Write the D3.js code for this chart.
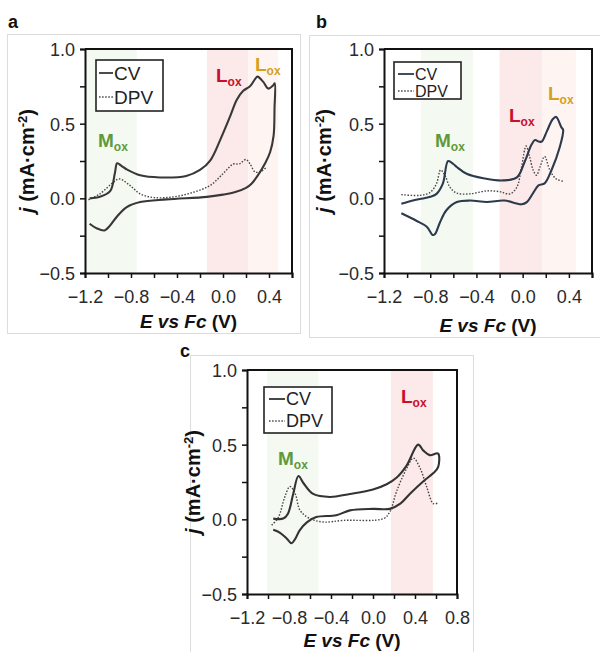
<!DOCTYPE html>
<html><head><meta charset="utf-8">
<script src="https://cdn.jsdelivr.net/npm/d3@7"></script>
<style>body{margin:0;background:#fff;} svg{display:block;font-family:"Liberation Sans",Arial,sans-serif;}</style>
</head><body><svg id="chart" width="600" height="652"></svg>
<script>
// ---------- data ----------
const xTicksAB = [-1.2, -0.8, -0.4, 0.0, 0.4];
const xTicksC = [-1.2, -0.8, -0.4, 0.0, 0.4, 0.8];
const yTicks = [-0.5, 0.0, 0.5, 1.0];
const legendLabels = ["CV", "DPV"];
const xTitle = ["E", " vs ", "Fc", " (V)"];

const aCV = [[-1.16,0.0],[-1.07,0.01],[-0.98,0.05],[-0.94,0.17],[-0.92,0.235],[-0.88,0.215],[-0.84,0.195],[-0.72,0.154],[-0.55,0.14],[-0.32,0.15],[-0.2,0.19],[-0.11,0.255],[-0.025,0.39],[0.06,0.545],[0.12,0.66],[0.176,0.72],[0.235,0.75],[0.28,0.8],[0.3,0.815],[0.35,0.78],[0.394,0.735],[0.437,0.757],[0.45,0.77],
  [0.448,0.6],[0.44,0.42],[0.41,0.31],[0.37,0.24],[0.3,0.15],[0.25,0.1],[0.2,0.07],[0.1,0.04],[0.0,0.025],[-0.14,0.01],[-0.49,-0.007],[-0.72,-0.025],[-0.84,-0.06],[-0.925,-0.125],[-0.98,-0.18],[-1.03,-0.215],[-1.1,-0.2],[-1.16,-0.17]];
const aDPV = [[-1.17,-0.01],[-1.07,0.03],[-0.95,0.11],[-0.9,0.13],[-0.81,0.087],[-0.72,0.03],[-0.6,0.005],[-0.43,0.01],[-0.26,0.04],[-0.11,0.087],[0.0,0.165],[0.09,0.23],[0.14,0.23],[0.2,0.26],[0.235,0.23],[0.28,0.176],[0.33,0.18],[0.38,0.21]];

const bCV = [[-1.05,-0.037],[-0.95,-0.015],[-0.89,-0.005],[-0.8,0.01],[-0.745,0.03],[-0.69,0.1],[-0.645,0.25],[-0.6,0.23],[-0.57,0.21],[-0.485,0.165],[-0.34,0.135],[-0.17,0.12],[-0.05,0.14],[0.02,0.25],[0.077,0.36],[0.107,0.39],[0.14,0.38],[0.165,0.38],[0.21,0.45],[0.26,0.53],[0.29,0.545],[0.335,0.475],[0.35,0.46],
  [0.32,0.34],[0.25,0.19],[0.19,0.1],[0.137,0.087],[0.094,0.04],[0.036,-0.025],[-0.01,-0.04],[-0.05,-0.035],[-0.16,-0.015],[-0.31,-0.025],[-0.455,-0.015],[-0.57,-0.025],[-0.66,-0.08],[-0.715,-0.16],[-0.76,-0.24],[-0.78,-0.245],[-0.83,-0.19],[-0.92,-0.15],[-1.05,-0.10]];
const bDPV = [[-1.05,0.025],[-0.89,0.02],[-0.8,0.04],[-0.745,0.1],[-0.71,0.19],[-0.67,0.15],[-0.63,0.075],[-0.57,0.035],[-0.455,0.03],[-0.31,0.05],[-0.2,0.045],[-0.11,0.03],[-0.05,0.075],[-0.01,0.21],[0.03,0.35],[0.06,0.28],[0.09,0.19],[0.12,0.155],[0.15,0.21],[0.19,0.28],[0.235,0.19],[0.29,0.13],[0.35,0.115]];

const cCV = [[-0.95,0.005],[-0.855,0.005],[-0.81,0.038],[-0.76,0.17],[-0.71,0.29],[-0.66,0.24],[-0.57,0.17],[-0.41,0.15],[-0.22,0.17],[0.0,0.2],[0.13,0.235],[0.226,0.28],[0.32,0.36],[0.43,0.5],[0.48,0.46],[0.54,0.43],[0.62,0.44],
  [0.62,0.35],[0.575,0.31],[0.48,0.255],[0.35,0.17],[0.26,0.105],[0.16,0.07],[0.0,0.07],[-0.22,0.06],[-0.35,0.027],[-0.54,0.015],[-0.63,-0.02],[-0.7,-0.075],[-0.74,-0.13],[-0.775,-0.16],[-0.82,-0.13],[-0.885,-0.09],[-0.95,-0.07]];
const cDPV = [[-0.965,-0.04],[-0.9,0.015],[-0.84,0.15],[-0.79,0.22],[-0.74,0.17],[-0.695,0.06],[-0.6,0.005],[-0.47,-0.018],[-0.28,-0.007],[0.1,0.005],[0.16,0.05],[0.226,0.19],[0.32,0.34],[0.385,0.41],[0.45,0.34],[0.51,0.22],[0.575,0.105],[0.62,0.11]];

// shaded regions: [start E, end E, kind]
const aBands = [[-1.2,-0.75,"M"],[-0.14,0.22,"L1"],[0.22,0.48,"L2"]];
const bBands = [[-0.88,-0.43,"M"],[-0.2,0.17,"L1"],[0.17,0.46,"L2"]];
const cBands = [[-1.01,-0.52,"M"],[0.17,0.57,"L1"]];

// ---------- styles / layout ----------
const bandFill = {M:"#f4f9f1", L1:"#fce9e9", L2:"#fef5f3"};
const labelColor = {M:"#5f9a3a", L1:"#c8102e", L2:"#d4a11e"};
const labelText = {M:"M", L1:"L", L2:"L"};

const panels = [
  {letter:"a", letterPos:[8,28], frame:[7,34,300,333], xr:[85,292], yr:[273,49], xDomain:[-1.2,0.6], xTicks:xTicksAB,
   cv:aCV, dpv:aDPV, bands:aBands, cvColor:"#383838",
   legend:{x:96,y:60,w:67,h:51,fs:19,r1:73,r2:97,dx0:99,dx1:113},
   labels:[["M",98,147],["L1",216,82],["L2",255,71]], ytX:27, xtY:328},
  {letter:"b", letterPos:[316,28], frame:[309,35,600,337], xr:[384,592], yr:[273,49], xDomain:[-1.2,0.6], xTicks:xTicksAB,
   cv:bCV, dpv:bDPV, bands:bBands, cvColor:"#2d3a4c",
   legend:{x:394,y:62,w:67,h:37,fs:16,r1:74,r2:91,dx0:398,dx1:414},
   labels:[["M",435,147],["L1",509,122],["L2",548,100]], ytX:324, xtY:332},
  {letter:"c", letterPos:[180,357], frame:[190,355,473,660], xr:[247,457], yr:[594,370], xDomain:[-1.2,0.8], xTicks:xTicksC,
   cv:cCV, dpv:cDPV, bands:cBands, cvColor:"#333333",
   legend:{x:264,y:387,w:68,h:46,fs:18,r1:399,r2:421,dx0:269,dx1:285},
   labels:[["M",278,465],["L1",401,403]], ytX:193, xtY:647}
];

const svg = d3.select("#chart");

panels.forEach((p, i) => {
  const g = svg.append("g");
  const [fx0, fy0, fx1, fy1] = p.frame;
  g.append("rect").attr("x", fx0+0.5).attr("y", fy0+0.5).attr("width", fx1-fx0).attr("height", fy1-fy0)
    .attr("fill", "none").attr("stroke", "#dcdcdc").attr("stroke-width", 1);
  g.append("text").attr("x", p.letterPos[0]).attr("y", p.letterPos[1]).text(p.letter)
    .attr("font-size", 18).attr("font-weight", "bold").attr("fill", "#111");

  const x = d3.scaleLinear().domain(p.xDomain).range(p.xr);
  const y = d3.scaleLinear().domain([-0.5, 1.0]).range(p.yr);

  const clipId = "clip" + i;
  svg.append("clipPath").attr("id", clipId).append("rect")
    .attr("x", p.xr[0]).attr("y", p.yr[1]).attr("width", p.xr[1]-p.xr[0]).attr("height", p.yr[0]-p.yr[1]);

  // bands
  g.append("g").attr("clip-path", `url(#${clipId})`).selectAll("rect").data(p.bands).join("rect")
    .attr("x", d => x(d[0])).attr("width", d => x(d[1]) - x(d[0]))
    .attr("y", p.yr[1]).attr("height", p.yr[0]-p.yr[1])
    .attr("fill", d => bandFill[d[2]]);

  // axes
  const minorX = d3.range(p.xDomain[0], p.xDomain[1] + 1e-9, 0.2);
  const minorY = d3.range(-0.5, 1.0001, 0.25);
  const xAxis = d3.axisBottom(x).tickValues(minorX).tickSize(5)
    .tickFormat(d => p.xTicks.some(t => Math.abs(t-d) < 1e-6) ? d3.format(".1f")(d) : "");
  const yAxis = d3.axisLeft(y).tickValues(minorY).tickSize(5)
    .tickFormat(d => yTicks.some(t => Math.abs(t-d) < 1e-6) ? d3.format(".1f")(d) : "");
  const gx = g.append("g").attr("transform", `translate(0,${p.yr[0]})`).call(xAxis);
  const gy = g.append("g").attr("transform", `translate(${p.xr[0]},0)`).call(yAxis);
  [gx, gy].forEach(a => {
    a.select(".domain").attr("stroke", "#111").attr("stroke-width", 2);
    a.selectAll(".tick line").attr("stroke", "#111").attr("stroke-width", 1.5);
    a.selectAll(".tick text").attr("font-size", 18).attr("fill", "#2a2a2a")
      .attr("font-family", '"Liberation Sans",Arial,sans-serif');
  });
  gx.selectAll(".tick text").attr("dy", "1.2em");
  gy.selectAll(".tick text").attr("x", -10).attr("dy", "0.36em");
  // top and right borders
  g.append("path").attr("d", `M${p.xr[0]},${p.yr[1]}H${p.xr[1]}V${p.yr[0]}`)
    .attr("fill", "none").attr("stroke", "#111").attr("stroke-width", 2);

  // curves
  const line = d3.line().x(d => x(d[0])).y(d => y(d[1])).curve(d3.curveCatmullRom.alpha(0.5));
  g.append("path").datum(p.dpv).attr("d", line).attr("fill", "none")
    .attr("stroke", "#444").attr("stroke-width", 1.4).attr("stroke-dasharray", "1.5,1.6");
  g.append("path").datum(p.cv).attr("d", line).attr("fill", "none")
    .attr("stroke", p.cvColor).attr("stroke-width", 2.1).attr("stroke-linejoin", "round");

  // legend
  const L = p.legend;
  g.append("rect").attr("x", L.x).attr("y", L.y).attr("width", L.w).attr("height", L.h)
    .attr("fill", "#fff").attr("stroke", "#222").attr("stroke-width", 1.6);
  const rows = [L.r1, L.r2];
  legendLabels.forEach((lab, k) => {
    g.append("line").attr("x1", L.dx0).attr("x2", L.dx1).attr("y1", rows[k]).attr("y2", rows[k])
      .attr("stroke", k === 0 ? p.cvColor : "#444").attr("stroke-width", k === 0 ? 1.8 : 1.4)
      .attr("stroke-dasharray", k === 0 ? null : "1.5,1.6");
    g.append("text").attr("x", L.dx1 + 1).attr("y", rows[k]).attr("dy", "0.36em")
      .attr("font-size", L.fs).attr("fill", "#222").text(lab);
  });

  // peak labels
  p.labels.forEach(([k, lx, ly]) => {
    const t = g.append("text").attr("x", lx).attr("y", ly).attr("fill", labelColor[k]).attr("font-weight", "bold");
    t.append("tspan").attr("font-size", 19).text(labelText[k]);
    t.append("tspan").attr("font-size", 12).attr("dy", 4).text("ox");
  });

  // axis titles
  const xt = g.append("text").attr("x", (p.xr[0]+p.xr[1])/2).attr("y", p.xtY)
    .attr("text-anchor", "middle").attr("font-size", 19).attr("font-weight", "bold").attr("fill", "#111");
  xTitle.forEach((s, k) => xt.append("tspan").attr("font-style", k < 3 ? "italic" : null).text(s));
  const cy = (p.yr[0]+p.yr[1])/2;
  const yt = g.append("text").attr("transform", `translate(${p.ytX},${cy}) rotate(-90)`)
    .attr("text-anchor", "middle").attr("dy", "0.35em").attr("font-size", 20).attr("font-weight", "bold").attr("fill", "#111");
  yt.append("tspan").attr("font-style", "italic").text("j");
  yt.append("tspan").text(" (mA·cm");
  yt.append("tspan").attr("font-size", 13).attr("dy", -7).text("-2");
  yt.append("tspan").attr("dy", 7).text(")");
});
</script></body></html>
